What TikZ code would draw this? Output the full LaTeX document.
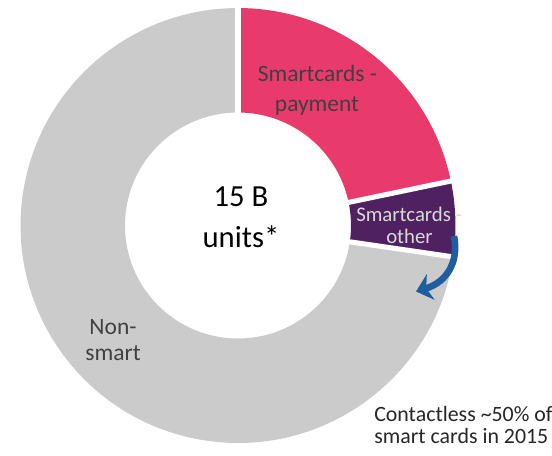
\documentclass[tikz,border=0pt]{standalone}
\usepackage{fontspec}
\setmainfont{Carlito}
\usetikzlibrary{arrows.meta,calc}

\definecolor{paypink}{HTML}{E83A6C}
\definecolor{otherpurple}{HTML}{4F2160}
\definecolor{nongray}{HTML}{CBCBCB}
\definecolor{arrowblue}{HTML}{1F5E9E}
\definecolor{labeldark}{HTML}{404040}
\definecolor{labellight}{HTML}{D9D9D9}

\newcommand{\ringslice}[3]{% fill colour, start angle, end angle
  \fill[#1] ($(ctr)+(#2:\Rout)$) arc[start angle=#2, end angle=#3, radius=\Rout]
    -- ($(ctr)+(#3:\Rin)$) arc[start angle=#3, end angle=#2, radius=\Rin] -- cycle;}

\begin{document}
\begin{tikzpicture}[x=0.75pt, y=0.75pt,
  gap/.style={white, line width=3.8pt},
  lbl/.style={inner sep=0pt, anchor=base west},
  linelbl/.style={inner sep=0pt, anchor=base},
  bigfont/.style={font=\fontsize{23}{27}\selectfont},
  slicefont/.style={font=\fontsize{17.6}{20}\selectfont},
  smallfont/.style={font=\fontsize{15.6}{18}\selectfont},
  notefont/.style={font=\fontsize{16.4}{19}\selectfont}]
\useasboundingbox (0,0) rectangle (552,455);
\def\Rout{163.1pt}
\def\Rin{84.75pt}
\coordinate (ctr) at (238,229.5);

% donut slices
\ringslice{paypink}{90}{11.8}
\ringslice{otherpurple}{11.8}{-8.3}
\ringslice{nongray}{-8.3}{-270}

% white separators between the slices
\foreach \a in {90,11.8,-8.3}
  \draw[gap] ($(ctr)+(\a:82pt)$) -- ($(ctr)+(\a:166pt)$);

% centre caption
\node[linelbl, bigfont] (total1) at (241,248.3) {15 B};
\node[linelbl, bigfont] (total2) at (241,207.7) {units*};

% slice labels
\node[lbl, slicefont, text=labeldark] (pay1) at (257.5,373.3) {Smartcards -};
\node[linelbl, slicefont, text=labeldark] (pay2) at (317,344) {payment};

\node[lbl, smallfont, text=labellight] (oth1) at (356,234) {Smartcards -};
\node[linelbl, smallfont, text=labellight] (oth2) at (409.5,212) {other};

\node[linelbl, slicefont, text=labeldark] (non1) at (113,121) {Non-};
\node[linelbl, slicefont, text=labeldark] (non2) at (113,95) {smart};

% note on contactless share
\node[lbl, notefont, text=black!85] (note1) at (374,33.3) {Contactless \textasciitilde50\% of};
\node[lbl, notefont, text=black!85] (note2) at (374,12) {smart cards in 2015};

% curved arrow out of the "other" slice
\coordinate (arrS) at (454,219);
\coordinate (arrE) at (416,163.5);
\draw[arrowblue, line width=5pt,
  -{Stealth[length=11.5pt, width=20pt, inset=3.5pt]}]
  (arrS) .. controls (459,193) and (447,173) .. (arrE);
\end{tikzpicture}
\end{document}
